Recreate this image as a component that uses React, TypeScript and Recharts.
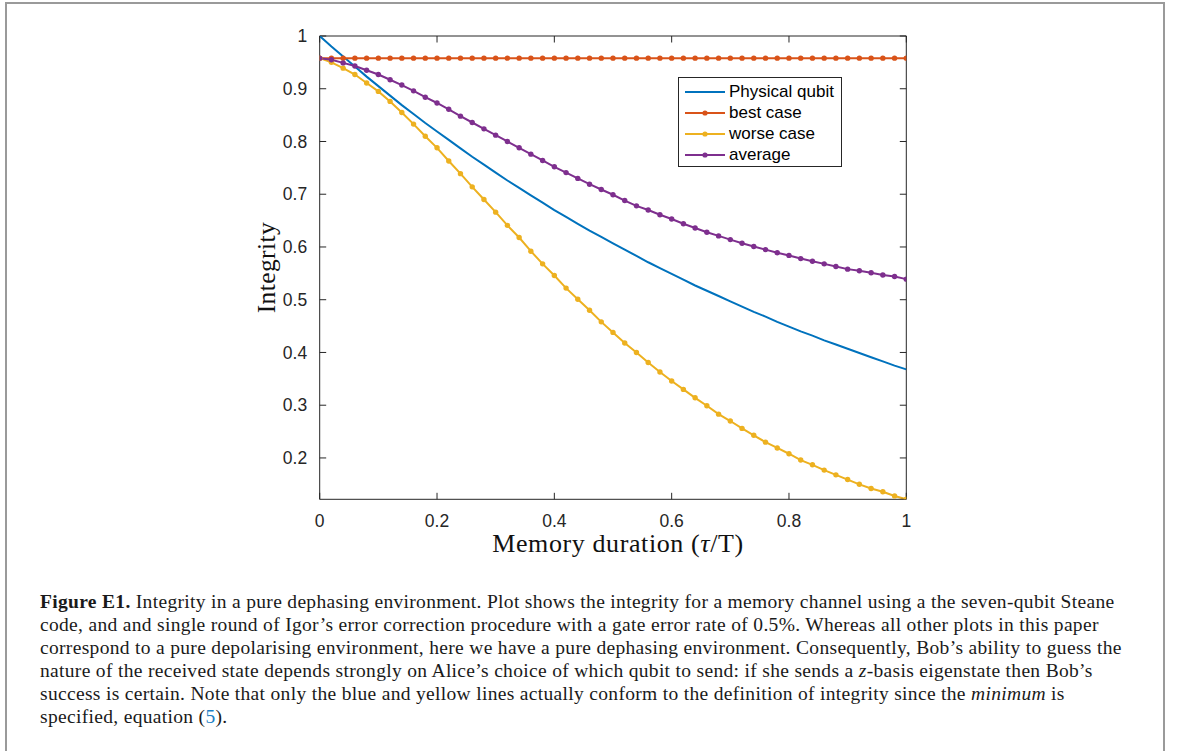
import { LineChart, Line, XAxis, YAxis, ReferenceLine } from 'recharts';

// memory duration, tau / T
const TAU = [
  0, 0.02, 0.04, 0.06, 0.08, 0.1, 0.12, 0.14, 0.16, 0.18, 0.2, 0.22, 0.24, 0.26, 0.28, 0.3, 0.32,
  0.34, 0.36, 0.38, 0.4, 0.42, 0.44, 0.46, 0.48, 0.5, 0.52, 0.54, 0.56, 0.58, 0.6, 0.62, 0.64, 0.66,
  0.68, 0.7, 0.72, 0.74, 0.76, 0.78, 0.8, 0.82, 0.84, 0.86, 0.88, 0.9, 0.92, 0.94, 0.96, 0.98, 1,
];

const PHYSICAL = [
  1.0, 0.98, 0.961, 0.942, 0.923, 0.905, 0.887, 0.869, 0.852, 0.835, 0.819, 0.803, 0.787, 0.771,
  0.756, 0.741, 0.726, 0.712, 0.698, 0.684, 0.67, 0.657, 0.644, 0.631, 0.619, 0.607, 0.595, 0.583,
  0.571, 0.56, 0.549, 0.538, 0.527, 0.517, 0.507, 0.497, 0.487, 0.477, 0.468, 0.458, 0.449, 0.44,
  0.432, 0.423, 0.415, 0.407, 0.399, 0.391, 0.383, 0.375, 0.368,
];

const BEST = [
  0.958, 0.958, 0.958, 0.958, 0.958, 0.958, 0.958, 0.958, 0.958, 0.958, 0.958, 0.958, 0.958, 0.958,
  0.958, 0.958, 0.958, 0.958, 0.958, 0.958, 0.958, 0.958, 0.958, 0.958, 0.958, 0.958, 0.958, 0.958,
  0.958, 0.958, 0.958, 0.958, 0.958, 0.958, 0.958, 0.958, 0.958, 0.958, 0.958, 0.958, 0.958, 0.958,
  0.958, 0.958, 0.958, 0.958, 0.958, 0.958, 0.958, 0.958, 0.958,
];

const WORSE = [
  0.958, 0.95, 0.939, 0.927, 0.911, 0.895, 0.876, 0.855, 0.833, 0.81, 0.788, 0.763, 0.739, 0.714,
  0.69, 0.666, 0.641, 0.618, 0.592, 0.568, 0.546, 0.522, 0.501, 0.48, 0.458, 0.438, 0.418, 0.4,
  0.381, 0.363, 0.346, 0.33, 0.314, 0.299, 0.283, 0.27, 0.256, 0.243, 0.23, 0.219, 0.208, 0.196,
  0.187, 0.177, 0.168, 0.159, 0.15, 0.142, 0.136, 0.128, 0.1216,
];

const AVERAGE = [
  0.958, 0.955, 0.949, 0.943, 0.935, 0.927, 0.917, 0.907, 0.896, 0.884, 0.873, 0.861, 0.848, 0.836,
  0.824, 0.812, 0.8, 0.788, 0.776, 0.764, 0.752, 0.741, 0.73, 0.719, 0.709, 0.699, 0.688, 0.678,
  0.67, 0.661, 0.653, 0.644, 0.636, 0.628, 0.621, 0.614, 0.607, 0.601, 0.595, 0.589, 0.584, 0.578,
  0.573, 0.568, 0.563, 0.558, 0.555, 0.551, 0.547, 0.544, 0.539,
];

const X_TICKS = [0, 0.2, 0.4, 0.6, 0.8, 1];
const Y_TICKS = [0.2, 0.3, 0.4, 0.5, 0.6, 0.7, 0.8, 0.9, 1];
const X_MIN = 0;
const X_MAX = 1;
const Y_MIN = 0.1216;
const Y_MAX = 1;

const SERIES = [
  { key: 'physical', name: 'Physical qubit', color: '#0072BD', markers: false },
  { key: 'best', name: 'best case', color: '#D95319', markers: true },
  { key: 'worse', name: 'worse case', color: '#EDB120', markers: true },
  { key: 'average', name: 'average', color: '#7E2F8E', markers: true },
];

const data = TAU.map((t, i) => ({
  t,
  physical: PHYSICAL[i],
  best: BEST[i],
  worse: WORSE[i],
  average: AVERAGE[i],
}));

const CHART_W = 1179;
const CHART_H = 751;
const MARGIN = { top: 36, right: 272.7, bottom: 221.7, left: 269.7 };
const Y_AXIS_W = 50;
const X_AXIS_H = 30;
const PLOT_W = CHART_W - MARGIN.left - MARGIN.right - Y_AXIS_W;
const PLOT_H = CHART_H - MARGIN.top - MARGIN.bottom - X_AXIS_H;

// inward tick length (px) expressed in data units, box-style axes
const TICK_PX = 6.5;
const TICK_DX = (TICK_PX / PLOT_W) * (X_MAX - X_MIN);
const TICK_DY = (TICK_PX / PLOT_H) * (Y_MAX - Y_MIN);

const AXIS = '#262626';
const SANS = '"Liberation Sans", Arial, Helvetica, sans-serif';
const SERIF = '"Liberation Serif", "Times New Roman", serif';

const fmt = (v: number) => (v === 0 || v === 1 ? String(v) : v.toFixed(1));

const tickStyle = { fill: AXIS, fontSize: 17.5, fontFamily: SANS };

function XLabel(props: any) {
  const { x, y, width } = props.viewBox;
  return (
    <text x={x + width / 2 + 5} y={y + 53} textAnchor="middle" fontFamily={SERIF} fontSize={26}
      letterSpacing={0.6} fill="#111">
      Memory duration (<tspan fontStyle="italic">τ</tspan>/T)
    </text>
  );
}

function YLabel(props: any) {
  const { x, y, height } = props.viewBox;
  const cx = x + 5;
  const cy = y + height / 2;
  return (
    <text x={cx} y={cy} textAnchor="middle" fontFamily={SERIF} fontSize={25.5} letterSpacing={0.4}
      fill="#111" transform={`rotate(-90 ${cx} ${cy})`}>
      Integrity
    </text>
  );
}

function LegendBox() {
  return (
    <div style={{
      position: 'absolute', left: 678, top: 77, width: 162, height: 88,
      border: `1px solid ${AXIS}`, background: '#fff', fontFamily: SANS, fontSize: 17,
    }}>
      {SERIES.map((s, i) => (
        <div key={s.key} style={{ position: 'absolute', left: 0, top: 3 + i * 21, height: 21, width: 162 }}>
          <svg width={48} height={21} style={{ position: 'absolute', left: 5, top: 0 }}>
            <line x1={1} x2={41} y1={11} y2={11} stroke={s.color} strokeWidth={2} />
            {s.markers && <circle cx={21} cy={11} r={2.6} fill={s.color} />}
          </svg>
          <span style={{ position: 'absolute', left: 50, top: 0, lineHeight: '21px', whiteSpace: 'nowrap', color: '#000' }}>
            {s.name}
          </span>
        </div>
      ))}
    </div>
  );
}

function Caption() {
  const line = { whiteSpace: 'nowrap' as const, height: 23 };
  return (
    <div style={{
      position: 'absolute', left: 40, top: 590, fontFamily: SERIF, fontSize: 19.5,
      letterSpacing: '0.32px', lineHeight: '23px', color: '#1a1a1a',
    }}>
      <div style={line}>
        <b>Figure E1.</b> Integrity in a pure dephasing environment. Plot shows the integrity for a memory channel using a the seven-qubit Steane
      </div>
      <div style={line}>
        code, and and single round of Igor’s error correction procedure with a gate error rate of 0.5%. Whereas all other plots in this paper
      </div>
      <div style={line}>
        correspond to a pure depolarising environment, here we have a pure dephasing environment. Consequently, Bob’s ability to guess the
      </div>
      <div style={line}>
        nature of the received state depends strongly on Alice’s choice of which qubit to send: if she sends a <i>z</i>-basis eigenstate then Bob’s
      </div>
      <div style={line}>
        success is certain. Note that only the blue and yellow lines actually conform to the definition of integrity since the <i>minimum</i> is
      </div>
      <div style={line}>
        specified, equation (<span style={{ color: '#1d7fc4' }}>5</span>).
      </div>
    </div>
  );
}

export default function App() {
  return (
    <div style={{ position: 'absolute', left: 0, top: 0, width: CHART_W, height: CHART_H, background: '#fff', overflow: 'hidden' }}>
      <div style={{
        position: 'absolute', left: 5, top: 2, width: 1156, height: 760,
        border: '2px solid #9a9a9a', borderBottom: 'none',
      }} />
      <LineChart
        width={CHART_W}
        height={CHART_H}
        data={data}
        margin={MARGIN}
        style={{ position: 'absolute', left: 0, top: 0 }}
      >
        <XAxis
          dataKey="t"
          type="number"
          domain={[X_MIN, X_MAX]}
          ticks={X_TICKS}
          tickFormatter={fmt}
          interval={0}
          height={X_AXIS_H}
          tickLine={false}
          tickSize={0}
          tickMargin={15}
          stroke={AXIS}
          tick={tickStyle}
          allowDataOverflow
          label={<XLabel />}
        />
        <YAxis
          type="number"
          domain={[Y_MIN, Y_MAX]}
          ticks={Y_TICKS}
          tickFormatter={fmt}
          interval={0}
          width={Y_AXIS_W}
          tickLine={false}
          tickSize={0}
          tickMargin={12.5}
          stroke={AXIS}
          tick={tickStyle}
          allowDataOverflow
          label={<YLabel />}
        />

        {/* box: top and right edges */}
        <ReferenceLine y={Y_MAX} stroke={AXIS} strokeWidth={1} ifOverflow="visible" />
        <ReferenceLine x={X_MAX} stroke={AXIS} strokeWidth={1} ifOverflow="visible" />

        {/* inward ticks on all four sides */}
        {X_TICKS.map((v) => (
          <ReferenceLine key={`xb${v}`} segment={[{ x: v, y: Y_MIN }, { x: v, y: Y_MIN + TICK_DY }]}
            stroke={AXIS} ifOverflow="visible" />
        ))}
        {X_TICKS.map((v) => (
          <ReferenceLine key={`xt${v}`} segment={[{ x: v, y: Y_MAX }, { x: v, y: Y_MAX - TICK_DY }]}
            stroke={AXIS} ifOverflow="visible" />
        ))}
        {Y_TICKS.map((v) => (
          <ReferenceLine key={`yl${v}`} segment={[{ x: X_MIN, y: v }, { x: X_MIN + TICK_DX, y: v }]}
            stroke={AXIS} ifOverflow="visible" />
        ))}
        {Y_TICKS.map((v) => (
          <ReferenceLine key={`yr${v}`} segment={[{ x: X_MAX, y: v }, { x: X_MAX - TICK_DX, y: v }]}
            stroke={AXIS} ifOverflow="visible" />
        ))}

        {SERIES.map((s) => (
          <Line
            key={s.key}
            dataKey={s.key}
            name={s.name}
            type="linear"
            stroke={s.color}
            strokeWidth={2}
            dot={s.markers ? { r: 2.7, fill: s.color, stroke: 'none' } : false}
            activeDot={false}
            isAnimationActive={false}
          />
        ))}
      </LineChart>
      <LegendBox />
      <Caption />
    </div>
  );
}
